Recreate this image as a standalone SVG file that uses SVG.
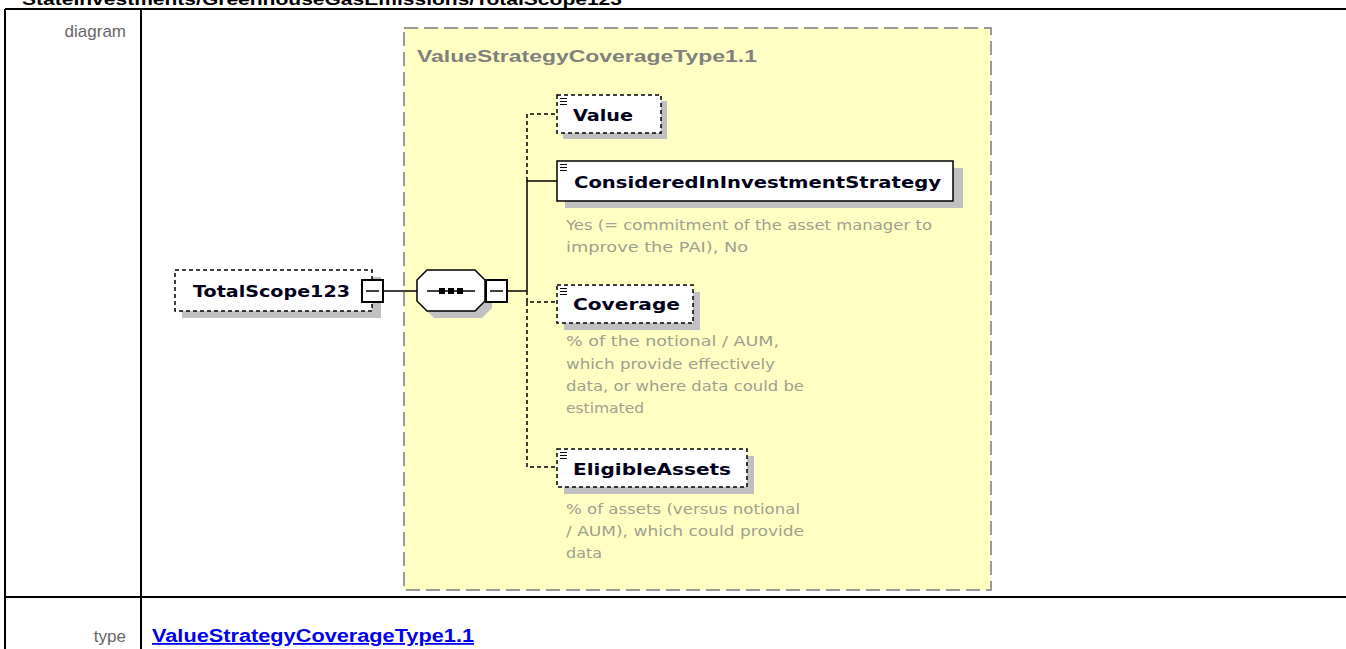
<svg xmlns="http://www.w3.org/2000/svg" width="1346" height="649" viewBox="0 0 1346 649">
<style>
.tbl{stroke:#000;stroke-width:2;fill:none}
.lbl{font-family:"Liberation Sans",Arial,sans-serif;font-size:17px;fill:#666}
.nm{font-family:"DejaVu Sans","Liberation Sans",sans-serif;font-weight:bold;font-size:16px;fill:#000018}
.ds{font-family:"DejaVu Sans","Liberation Sans",sans-serif;font-size:14px;fill:#a0a090}
.sh{fill:#c0c0c0}
.opt{fill:#fff;stroke:#000;stroke-width:1.5;stroke-dasharray:4,3}
.req{fill:#fff;stroke:#000;stroke-width:1.5}
.ln{stroke:#000;stroke-width:1.5;fill:none}
.dl{stroke:#000;stroke-width:1.5;fill:none;stroke-dasharray:4,3}
.ic{stroke:#000;stroke-width:1}
</style>
<rect width="1346" height="649" fill="#fff"/>
<text x="22" y="5" font-family="'Liberation Sans',Arial,sans-serif" font-weight="bold" font-size="17" textLength="600" lengthAdjust="spacingAndGlyphs" fill="#000">StateInvestments/GreenhouseGasEmissions/TotalScope123</text>
<g id="table">
<line class="tbl" x1="5" y1="9" x2="1346" y2="9"/>
<line class="tbl" x1="5" y1="597" x2="1346" y2="597"/>
<line class="tbl" x1="5" y1="9" x2="5" y2="649"/>
<line class="tbl" x1="141" y1="9" x2="141" y2="649"/>
<text class="lbl" x="126" y="37" text-anchor="end">diagram</text>
<text class="lbl" x="126" y="642" text-anchor="end">type</text>
<text x="152" y="642" font-family="'Liberation Sans',Arial,sans-serif" font-weight="bold" font-size="18" fill="#0000ee" text-decoration="underline" textLength="322" lengthAdjust="spacingAndGlyphs">ValueStrategyCoverageType1.1</text>
</g>
<g id="complexType">
<rect x="404" y="28" width="587" height="562" fill="#ffffc4" stroke="#999" stroke-width="2" stroke-dasharray="14,6"/>
<text x="417" y="62" font-family="'Liberation Sans',Arial,sans-serif" font-weight="bold" font-size="16" fill="#808080" textLength="340" lengthAdjust="spacingAndGlyphs">ValueStrategyCoverageType1.1</text>
</g>
<g id="connectors">
<line class="ln" x1="383" y1="291" x2="417" y2="291"/>
<line class="ln" x1="508" y1="291" x2="527" y2="291"/>
<polyline class="dl" points="527,181 527,114 557,114"/>
<polyline class="ln" points="527,291 527,181 557,181"/>
<polyline class="dl" points="527,291 527,302 557,302"/>
<polyline class="dl" points="527,302 527,467 557,467"/>
</g>
<g id="TotalScope123">
<rect class="sh" x="182" y="277" width="199" height="41"/>
<rect class="opt" x="175" y="270" width="197" height="41"/>
<text class="nm" x="193" y="297" textLength="157" lengthAdjust="spacingAndGlyphs">TotalScope123</text>
<rect x="362" y="280" width="21" height="22" fill="#fff" stroke="#000" stroke-width="2"/>
<line x1="366" y1="291" x2="379" y2="291" stroke="#000" stroke-width="1.5"/>
</g>
<g id="sequence">
<polygon class="sh" points="434,277 482,277 492,287 492,308 482,318 434,318 424,308 424,287"/>
<polygon fill="#fff" stroke="#000" stroke-width="1.5" points="427,270 475,270 485,280 485,301 475,311 427,311 417,301 417,280"/>
<line x1="427" y1="291" x2="475" y2="291" stroke="#000" stroke-width="1.5"/>
<rect x="439" y="288" width="6" height="6" fill="#000"/>
<rect x="448" y="288" width="6" height="6" fill="#000"/>
<rect x="457" y="288" width="6" height="6" fill="#000"/>
<rect x="486" y="280" width="21" height="22" fill="#fff" stroke="#000" stroke-width="2"/>
<line x1="490" y1="291" x2="503" y2="291" stroke="#000" stroke-width="1.5"/>
</g>
<g id="Value">
<rect class="sh" x="563" y="101" width="104" height="38"/>
<rect class="opt" x="557" y="95" width="104" height="38"/>
<path class="ic" d="M560,98.5h7M560,101.5h7M560,104.5h7"/>
<text class="nm" x="573" y="121" textLength="60" lengthAdjust="spacingAndGlyphs">Value</text>
</g>
<g id="ConsideredInInvestmentStrategy">
<rect class="sh" x="565" y="168" width="398" height="40"/>
<rect class="req" x="557" y="161" width="396" height="40"/>
<path class="ic" d="M560,164.5h7M560,167.5h7M560,170.5h7"/>
<text class="nm" x="574" y="188" textLength="367" lengthAdjust="spacingAndGlyphs">ConsideredInInvestmentStrategy</text>
<text class="ds" x="566" y="230" textLength="366" lengthAdjust="spacingAndGlyphs">Yes (= commitment of the asset manager to</text>
<text class="ds" x="566" y="252" textLength="182" lengthAdjust="spacingAndGlyphs">improve the PAI), No</text>
</g>
<g id="Coverage">
<rect class="sh" x="564" y="292" width="136" height="38"/>
<rect class="opt" x="557" y="285" width="136" height="38"/>
<path class="ic" d="M560,288.5h7M560,291.5h7M560,294.5h7"/>
<text class="nm" x="573" y="310" textLength="107" lengthAdjust="spacingAndGlyphs">Coverage</text>
<text class="ds" x="566" y="346" textLength="213" lengthAdjust="spacingAndGlyphs">% of the notional / AUM,</text>
<text class="ds" x="566" y="369" textLength="209" lengthAdjust="spacingAndGlyphs">which provide effectively</text>
<text class="ds" x="566" y="391" textLength="238" lengthAdjust="spacingAndGlyphs">data, or where data could be</text>
<text class="ds" x="566" y="413" textLength="78" lengthAdjust="spacingAndGlyphs">estimated</text>
</g>
<g id="EligibleAssets">
<rect class="sh" x="564" y="456" width="190" height="38"/>
<rect class="opt" x="557" y="449" width="190" height="38"/>
<path class="ic" d="M560,452.5h7M560,455.5h7M560,458.5h7"/>
<text class="nm" x="573" y="475" textLength="158" lengthAdjust="spacingAndGlyphs">EligibleAssets</text>
<text class="ds" x="566" y="514" textLength="234" lengthAdjust="spacingAndGlyphs">% of assets (versus notional</text>
<text class="ds" x="566" y="536" textLength="238" lengthAdjust="spacingAndGlyphs">/ AUM), which could provide</text>
<text class="ds" x="566" y="558" textLength="36" lengthAdjust="spacingAndGlyphs">data</text>
</g>
</svg>
